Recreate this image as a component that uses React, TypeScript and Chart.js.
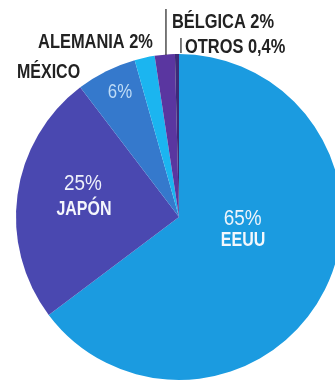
import React, { useEffect, useRef } from "react";
import { Chart, registerables } from "chart.js";

Chart.register(...registerables);

const countries = ["EEUU", "JAPÓN", "MÉXICO", "ALEMANIA", "BÉLGICA", "OTROS"];
const shares = [65, 25, 6, 2, 2, 0.4];
const shareLabels = ["65%", "25%", "6%", "2%", "2%", "0,4%"];
const sliceColors = ["#1b9be0", "#4a48b0", "#3579cc", "#1bb5f0", "#5a36a0", "#3d2a78"];

type Lbl = {
  text: string;
  dx: number;
  dy: number;
  align: "left" | "right" | "center";
  color: string;
  weight: string;
  size: number;
  squeeze: number;
};

const FONT = "'Liberation Sans', Arial, sans-serif";

const labels: Lbl[] = [
  { text: shareLabels[0], dx: 0.39, dy: 0.05, align: "center", color: "#eef4fb", weight: "normal", size: 22, squeeze: 0.86 },
  { text: countries[0], dx: 0.393, dy: 0.178, align: "center", color: "#f4f8fc", weight: "bold", size: 20, squeeze: 0.8 },
  { text: shareLabels[1], dx: -0.589, dy: -0.166, align: "center", color: "#eef0fa", weight: "normal", size: 22, squeeze: 0.86 },
  { text: countries[1], dx: -0.583, dy: -0.012, align: "center", color: "#f4f6fc", weight: "bold", size: 20, squeeze: 0.8 },
  { text: shareLabels[2], dx: -0.362, dy: -0.73, align: "center", color: "#bfdcf6", weight: "normal", size: 20, squeeze: 0.84 },
  { text: countries[2], dx: -0.994, dy: -0.853, align: "left", color: "#222222", weight: "bold", size: 20, squeeze: 0.8 },
  { text: countries[3] + " " + shareLabels[3], dx: -0.16, dy: -1.037, align: "right", color: "#222222", weight: "bold", size: 20, squeeze: 0.82 },
  { text: countries[4] + " " + shareLabels[4], dx: -0.043, dy: -1.16, align: "left", color: "#222222", weight: "bold", size: 20, squeeze: 0.82 },
  { text: countries[5] + " " + shareLabels[5], dx: 0.037, dy: -1.006, align: "left", color: "#222222", weight: "bold", size: 20, squeeze: 0.82 },
];

const leaders = [
  { dx: -0.08, y0: -1.276, y1: -0.994 },
  { dx: 0.012, y0: -1.098, y1: -1.006 },
];

const labelPlugin = {
  id: "pieLabels",
  afterDraw(chart: any) {
    const arc = chart.getDatasetMeta(0).data[0];
    if (!arc) return;
    const cx = arc.x;
    const cy = arc.y;
    const r = arc.outerRadius;
    const ctx = chart.ctx;
    ctx.save();
    ctx.strokeStyle = "#222222";
    ctx.lineWidth = 1.2;
    leaders.forEach((l) => {
      ctx.beginPath();
      ctx.moveTo(cx + l.dx * r, cy + l.y0 * r);
      ctx.lineTo(cx + l.dx * r, cy + l.y1 * r);
      ctx.stroke();
    });
    ctx.textBaseline = "alphabetic";
    labels.forEach((l) => {
      ctx.save();
      ctx.font = `${l.weight} ${l.size}px ${FONT}`;
      ctx.fillStyle = l.color;
      ctx.textAlign = l.align;
      ctx.translate(cx + l.dx * r, cy + l.dy * r);
      ctx.scale(l.squeeze, 1);
      ctx.fillText(l.text, 0, 0);
      ctx.restore();
    });
    ctx.restore();
  },
};

export default function App() {
  const ref = useRef<HTMLCanvasElement>(null);
  useEffect(() => {
    if (!ref.current) return;
    const chart = new Chart(ref.current, {
      type: "pie",
      data: {
        labels: countries,
        datasets: [
          {
            data: shares,
            backgroundColor: sliceColors,
            borderWidth: 0,
          },
        ],
      },
      options: {
        responsive: false,
        animation: false,
        layout: { padding: { left: 16, top: 54, right: 3, bottom: 3 } },
        plugins: { legend: { display: false }, tooltip: { enabled: false } },
      },
      plugins: [labelPlugin],
    });
    return () => chart.destroy();
  }, []);
  return (
    <div style={{ position: "fixed", left: 0, top: 0, width: 335, height: 383, overflow: "hidden", background: "#ffffff" }}>
      <canvas ref={ref} width={345} height={383} />
    </div>
  );
}
